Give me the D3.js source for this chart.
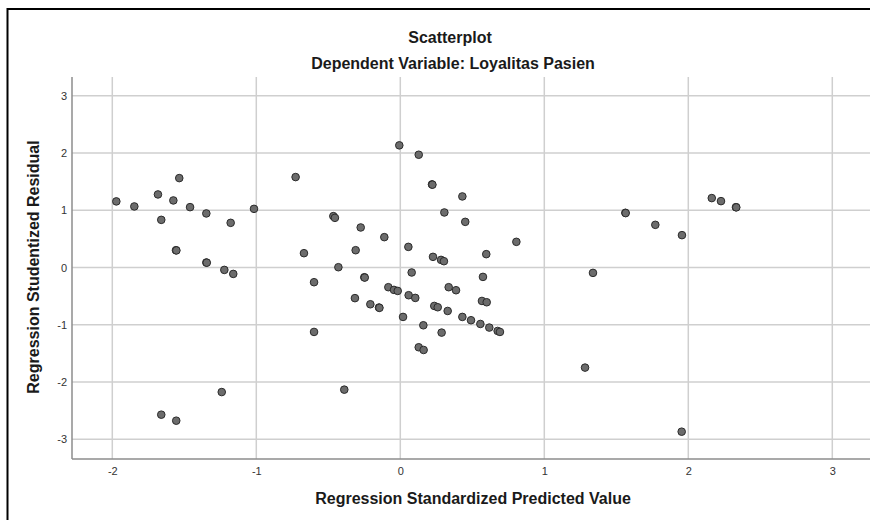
<!DOCTYPE html>
<html>
<head>
<meta charset="utf-8">
<script src="https://cdn.jsdelivr.net/npm/d3@7"></script>
<style>
  body { margin: 0; background: #fff; }
  text { font-family: "Liberation Sans", Arial, sans-serif; }
</style>
</head>
<body>
<div id="root"></div>
<script>
const width = 870;
const height = 520;

// values (duplicates where the dots overlap)
const predicted = [
  -1.972, -1.847, -1.683, -1.660, -1.576, -1.535, -1.558, -1.555, -1.460, -1.347,
  -1.347, -1.344, -1.222, -1.160, -1.178, -1.016, -0.727, -0.669, -0.599, -0.465,
  -0.454, -0.430, -0.599, -1.240, -1.660, -1.556, -0.007, 0.128, 0.220, 0.223,
  0.431, 0.306, 0.451, -0.275, -0.111, 0.056, 0.806, -0.310, 0.227, 0.283,
  0.303, 0.597, 0.079, 0.574, -0.250, -0.247, -0.083, -0.044, -0.018, 0.058,
  0.104, 0.336, 0.387, -0.315, -0.208, -0.148, -0.145, 0.019, 0.236, 0.260,
  0.329, 0.567, 0.600, 0.431, 0.491, 0.556, 0.618, 0.676, 0.692, 0.160,
  0.287, 0.128, 0.162, -0.389, 1.563, 1.565, 1.771, 1.956, 2.163, 2.227,
  2.331, 2.333, 1.338, 1.283, 1.954
];
const residual = [
  1.154, 1.066, 1.276, 0.832, 1.171, 1.561, 0.302, 0.298, 1.054, 0.944,
  0.087, 0.084, -0.042, -0.112, 0.780, 1.024, 1.579, 0.250, -0.257, 0.897,
  0.867, 0.005, -1.125, -2.175, -2.570, -2.675, 2.133, 1.969, 1.451, 1.446,
  1.241, 0.961, 0.797, 0.699, 0.530, 0.360, 0.448, 0.302, 0.186, 0.133,
  0.110, 0.233, -0.087, -0.164, -0.170, -0.176, -0.344, -0.391, -0.409, -0.484,
  -0.531, -0.344, -0.397, -0.535, -0.642, -0.699, -0.705, -0.863, -0.671, -0.694,
  -0.759, -0.584, -0.607, -0.863, -0.921, -0.986, -1.049, -1.108, -1.125, -1.009,
  -1.137, -1.393, -1.440, -2.133, 0.955, 0.950, 0.745, 0.565, 1.212, 1.159,
  1.054, 1.050, -0.094, -1.748, -2.867
];
const xTicks = [-2, -1, 0, 1, 2, 3];
const yTicks = [-3, -2, -1, 0, 1, 2, 3];

const title = "Scatterplot";
const subtitle = "Dependent Variable: Loyalitas Pasien";
const xTitle = "Regression Standardized Predicted Value";
const yTitle = "Regression Studentized Residual";

const points = predicted.map((d, i) => ({ x: d, y: residual[i] }));

const plot = { left: 72, top: 77, right: 872, bottom: 459 };

const x = d3.scaleLinear().domain([-2, 3]).range([112.3, 832.3]);
const y = d3.scaleLinear().domain([-3, 3]).range([439.3, 95.7]);

const svg = d3
  .select("#root")
  .append("svg")
  .attr("width", width)
  .attr("height", height);

svg.append("rect").attr("width", width).attr("height", height).attr("fill", "#fff");

// outer frame (left and top edges only are visible)
svg.append("line")
  .attr("x1", 7.5).attr("x2", 7.5).attr("y1", 8).attr("y2", height)
  .attr("stroke", "#000").attr("stroke-width", 2);
svg.append("line")
  .attr("x1", 7).attr("x2", width).attr("y1", 9).attr("y2", 9)
  .attr("stroke", "#000").attr("stroke-width", 2);

// grid
const grid = svg.append("g").attr("stroke", "#cfcfcf").attr("stroke-width", 1.5);
grid.selectAll(".vx")
  .data(xTicks)
  .enter()
  .append("line")
  .attr("x1", (d) => x(d)).attr("x2", (d) => x(d))
  .attr("y1", plot.top).attr("y2", plot.bottom);
grid.selectAll(".hy")
  .data(yTicks)
  .enter()
  .append("line")
  .attr("x1", plot.left).attr("x2", plot.right)
  .attr("y1", (d) => y(d)).attr("y2", (d) => y(d));

// axes (no tick marks, just the lines and labels)
const xAxis = svg.append("g")
  .attr("transform", `translate(0,${plot.bottom})`)
  .call(d3.axisBottom(x).tickValues(xTicks).tickSize(0).tickPadding(8));
const yAxis = svg.append("g")
  .attr("transform", `translate(${plot.left},0)`)
  .call(d3.axisLeft(y).tickValues(yTicks).tickSize(0).tickPadding(5));
[xAxis, yAxis].forEach((a) => {
  a.select(".domain").remove();
  a.selectAll("text")
    .attr("font-family", "Liberation Sans, Arial, sans-serif")
    .attr("font-size", 11)
    .attr("fill", "#333");
});
xAxis.selectAll("text").text((d) => (d < 0 ? "-" + Math.abs(d) : d));
yAxis.selectAll("text").text((d) => (d < 0 ? "-" + Math.abs(d) : d));

svg.append("line")
  .attr("x1", plot.left).attr("x2", plot.left)
  .attr("y1", plot.top).attr("y2", plot.bottom)
  .attr("stroke", "#8c8c8c").attr("stroke-width", 1.5);
svg.append("line")
  .attr("x1", plot.left).attr("x2", plot.right)
  .attr("y1", plot.bottom).attr("y2", plot.bottom)
  .attr("stroke", "#8c8c8c").attr("stroke-width", 1.5);

// points
svg.append("g")
  .selectAll("circle")
  .data(points)
  .enter()
  .append("circle")
  .attr("cx", (d) => x(d.x))
  .attr("cy", (d) => y(d.y))
  .attr("r", 3.8)
  .attr("fill", "#6c6c6c")
  .attr("stroke", "#2b2b2b")
  .attr("stroke-width", 1);

// titles
svg.append("text")
  .attr("x", 450).attr("y", 37)
  .attr("text-anchor", "middle").attr("dominant-baseline", "central")
  .attr("font-size", 16).attr("font-weight", "bold").attr("fill", "#1a1a1a")
  .text(title);
svg.append("text")
  .attr("x", 453).attr("y", 63)
  .attr("text-anchor", "middle").attr("dominant-baseline", "central")
  .attr("font-size", 16).attr("font-weight", "bold").attr("fill", "#1a1a1a")
  .text(subtitle);
svg.append("text")
  .attr("x", 473).attr("y", 498)
  .attr("text-anchor", "middle").attr("dominant-baseline", "central")
  .attr("font-size", 16).attr("font-weight", "bold").attr("fill", "#1a1a1a")
  .text(xTitle);
svg.append("text")
  .attr("transform", "translate(33,267) rotate(-90)")
  .attr("text-anchor", "middle").attr("dominant-baseline", "central")
  .attr("font-size", 16).attr("font-weight", "bold").attr("fill", "#1a1a1a")
  .text(yTitle);
</script>
</body>
</html>
